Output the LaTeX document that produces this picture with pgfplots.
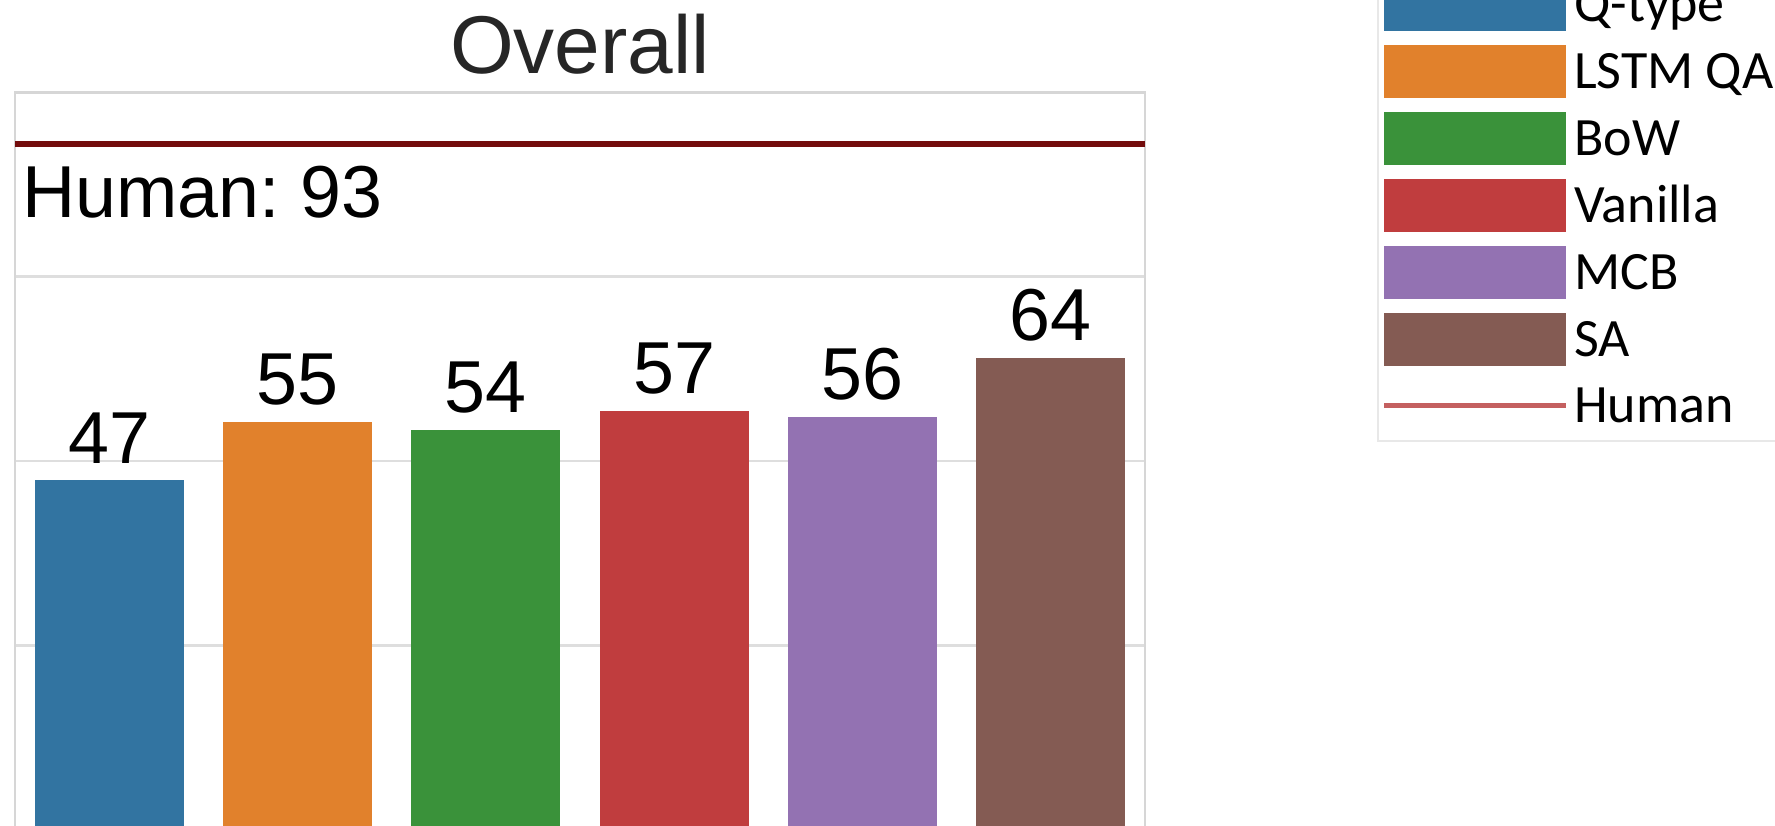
\documentclass[border=0pt]{standalone}
\usepackage{pgfplots}
\pgfplotsset{compat=1.18}
\usepackage{fontspec}
\setmainfont{Liberation Sans}
\newfontfamily\legfont{Carlito}
\definecolor{cA}{HTML}{3274A1}
\definecolor{cB}{HTML}{E1812C}
\definecolor{cC}{HTML}{3A923A}
\definecolor{cD}{HTML}{C03D3E}
\definecolor{cE}{HTML}{9372B2}
\definecolor{cF}{HTML}{845B53}
\definecolor{humandark}{RGB}{115,12,12}
\definecolor{humanlight}{RGB}{196,96,96}
\definecolor{gridgray}{RGB}{222,222,222}
\definecolor{framegray}{RGB}{214,214,214}
\definecolor{leggray}{RGB}{232,232,232}
\definecolor{titlegray}{RGB}{38,38,38}
\pgfplotsset{
  mybar/.style={ybar, bar width=0.79, bar shift=0pt, draw=none, fill=#1,
    point meta=explicit symbolic,
    nodes near coords,
    nodes near coords style={font=\fontsize{18.4}{20}\selectfont, anchor=south, inner sep=0pt, yshift=4pt, text=black},
    legend image code/.code={\fill[##1] (0pt,-6.625pt) rectangle (45.5pt,6.625pt);}},
  humanleg/.style={humanlight, line width=1.25pt,
    legend image code/.code={\draw[##1] (0pt,0pt) -- (45.5pt,0pt);}},
}
\begin{document}
\frenchspacing
\begin{tikzpicture}
\useasboundingbox (0,0) rectangle (443.75pt,206.25pt);
\clip (0,0) rectangle (443.75pt,206.25pt);
\begin{axis}[
  at={(3.75pt,-1.1pt)}, anchor=south west,
  scale only axis, width=282.5pt, height=184.25pt,
  xmin=-0.5, xmax=5.5, ymin=0, ymax=100,
  xtick=\empty, ytick={25,50,75}, yticklabels={}, major tick length=0pt,
  ymajorgrids, grid style={draw=gridgray, line width=0.7pt},
  axis line style={draw=framegray, line width=0.6pt},
  clip=false,
  legend style={at={(axis description cs:1.2053,0.5256)}, anchor=south west,
    draw=leggray, line width=0.5pt, inner xsep=0.9pt, inner ysep=2.75pt,
    row sep=3.5pt, column sep=0pt,
    font=\legfont\fontsize{13.5}{14}\selectfont,
    nodes={inner xsep=1.4pt, inner ysep=2pt, text height=8.5pt, text depth=0pt},
    cells={anchor=west}},
  legend cell align=left,
]
\addplot[mybar=cA] coordinates {(0,47.4) [47]};
\addlegendentry{Q-type}
\addplot[mybar=cB] coordinates {(1,55.3) [55]};
\addlegendentry{LSTM QA}
\addplot[mybar=cC] coordinates {(2,54.2) [54]};
\addlegendentry{BoW}
\addplot[mybar=cD] coordinates {(3,56.8) [57]};
\addlegendentry{Vanilla}
\addplot[mybar=cE] coordinates {(4,56.0) [56]};
\addlegendentry{MCB}
\addplot[mybar=cF] coordinates {(5,64.0) [64]};
\addlegendentry{SA}
\addplot[humandark, line width=1.3pt, forget plot] coordinates {(-0.5,93) (5.5,93)};
\addlegendimage{humanleg}
\addlegendentry{Human}
\node[anchor=base west, font=\fontsize{18.4}{20}\selectfont, inner sep=0pt, xshift=1.6pt] at (axis cs:-0.5,83) {Human: 93};
\node[anchor=base, font=\fontsize{20.5}{24}\selectfont, text=titlegray, inner sep=0pt, yshift=4.6pt] at (axis description cs:0.5,1) {Overall};
\end{axis}
\end{tikzpicture}
\end{document}
